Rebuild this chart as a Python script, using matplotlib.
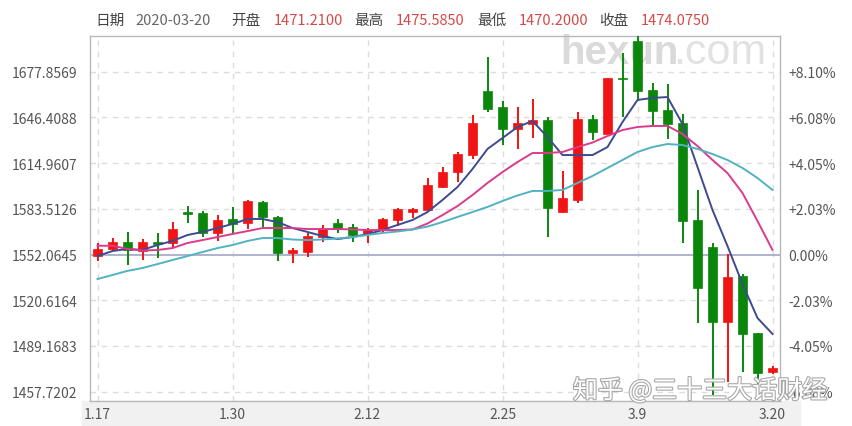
import numpy as np
import matplotlib
matplotlib.use("Agg")
import matplotlib.pyplot as plt
from matplotlib.patches import Rectangle
import matplotlib.patheffects as pe

plt.rcParams['font.family'] = ['Noto Sans CJK SC', 'DejaVu Sans']

# 交易日
dates = ["1.17", "1.20", "1.21", "1.22", "1.23", "1.24", "1.27", "1.28", "1.29", "1.30",
         "1.31", "2.3", "2.4", "2.5", "2.6", "2.7", "2.10", "2.11", "2.12", "2.13",
         "2.14", "2.17", "2.18", "2.19", "2.20", "2.21", "2.24", "2.25", "2.26", "2.27",
         "2.28", "3.2", "3.3", "3.4", "3.5", "3.6", "3.9", "3.10", "3.11", "3.12",
         "3.13", "3.16", "3.17", "3.18", "3.19", "3.20"]

# K线数据
opens = [1551.0, 1555.6, 1560.5, 1554.5, 1560.9, 1559.8, 1581.5, 1580.4, 1566.7, 1576.3,
         1574.0, 1588.4, 1578.1, 1552.9, 1554.0, 1564.3, 1574.0, 1571.2, 1566.2, 1568.9,
         1575.8, 1581.5, 1582.7, 1598.7, 1609.0, 1620.5, 1664.6, 1653.4, 1638.4, 1641.8,
         1644.6, 1581.5, 1589.6, 1645.1, 1635.0, 1673.5, 1699.2, 1665.2, 1651.5, 1642.3,
         1575.8, 1557.0, 1505.8, 1537.3, 1497.8, 1471.21]
highs = [1559.8, 1563.6, 1567.7, 1563.0, 1567.1, 1574.6, 1585.4, 1582.2, 1579.2, 1585.0,
         1589.6, 1588.9, 1578.5, 1556.3, 1566.9, 1572.4, 1576.3, 1573.1, 1570.1, 1577.0,
         1583.9, 1584.3, 1604.5, 1612.1, 1622.8, 1648.1, 1687.9, 1657.9, 1653.8, 1658.9,
         1646.9, 1609.7, 1650.3, 1648.1, 1673.5, 1690.9, 1708.0, 1669.9, 1669.4, 1648.8,
         1596.4, 1560.2, 1552.4, 1538.6, 1497.8, 1475.585]
lows = [1547.6, 1554.5, 1544.8, 1548.3, 1549.9, 1556.7, 1574.0, 1563.9, 1561.6, 1566.7,
        1569.4, 1570.1, 1547.6, 1546.0, 1550.3, 1560.9, 1566.7, 1560.9, 1560.2, 1567.7,
        1571.7, 1577.0, 1581.5, 1598.0, 1602.2, 1617.6, 1650.3, 1627.4, 1624.4, 1632.0,
        1564.1, 1580.8, 1587.7, 1630.8, 1635.0, 1646.5, 1657.9, 1640.5, 1631.3, 1559.8,
        1505.1, 1455.4, 1464.5, 1471.4, 1462.3, 1470.20]
closes = [1555.6, 1560.9, 1555.2, 1560.9, 1559.3, 1569.6, 1579.9, 1566.7, 1575.8, 1572.8,
          1588.9, 1577.7, 1553.3, 1555.2, 1564.8, 1569.4, 1570.5, 1565.5, 1568.9, 1576.3,
          1583.2, 1583.4, 1599.9, 1609.0, 1621.0, 1642.3, 1652.0, 1638.4, 1642.8, 1644.6,
          1583.9, 1590.7, 1645.1, 1636.6, 1673.3, 1672.8, 1664.8, 1651.0, 1641.8, 1575.1,
          1528.8, 1505.8, 1536.8, 1497.4, 1470.3, 1474.075]

# 均线（图上读出）
ma5 = [1551.0, 1554.5, 1555.9, 1555.2, 1558.6, 1561.4, 1565.5, 1567.6, 1570.3, 1573.1,
       1576.5, 1576.5, 1574.4, 1570.3, 1567.6, 1564.8, 1562.7, 1564.1, 1566.1, 1568.9,
       1572.4, 1575.8, 1581.3, 1589.6, 1598.5, 1610.9, 1624.7, 1632.2, 1639.8, 1643.9,
       1632.9, 1620.5, 1620.5, 1620.5, 1626.0, 1643.2, 1658.4, 1659.8, 1660.4, 1641.8,
       1612.3, 1582.7, 1557.9, 1531.8, 1508.4, 1497.4]
ma10 = [1558.1, 1558.1, 1555.9, 1554.8, 1555.2, 1556.5, 1560.0, 1562.0, 1564.1, 1566.2,
        1568.2, 1570.3, 1570.3, 1570.3, 1569.6, 1569.6, 1569.6, 1569.3, 1568.9, 1568.9,
        1568.9, 1569.3, 1573.4, 1579.2, 1585.4, 1593.0, 1601.3, 1608.8, 1615.7, 1621.9,
        1621.9, 1622.6, 1626.0, 1629.1, 1633.6, 1637.7, 1639.8, 1640.5, 1640.5, 1635.0,
        1626.7, 1617.1, 1608.1, 1594.4, 1575.1, 1555.2]
ma20 = [1535.2, 1538.0, 1540.8, 1542.8, 1545.5, 1548.3, 1551.0, 1553.8, 1556.5, 1558.6,
        1561.4, 1563.4, 1563.4, 1562.4, 1562.0, 1562.4, 1563.1, 1564.1, 1565.5, 1566.9,
        1567.9, 1569.3, 1571.3, 1574.4, 1577.9, 1581.3, 1584.8, 1588.9, 1592.7, 1595.8,
        1595.8, 1596.5, 1601.3, 1606.1, 1611.6, 1617.1, 1622.6, 1626.0, 1628.1, 1627.4,
        1624.7, 1621.2, 1617.1, 1611.6, 1604.7, 1596.5]

base = 1552.0645
yticks = [1457.7202, 1489.1683, 1520.6164, 1552.0645, 1583.5126, 1614.9607, 1646.4088, 1677.8569]
label_every = 9

UP = '#f01414'
DOWN = '#0a870a'

fig = plt.figure(figsize=(8.52, 4.27), dpi=100)
fig.patch.set_facecolor('white')

# x轴标签下面的灰色条
fig.patches.append(Rectangle((82 / 852, 0), (800 - 82) / 852, 25 / 427,
                             transform=fig.transFigure, color='#f1f1f1', zorder=-5))

ax = fig.add_axes([90 / 852, 25 / 427, 690 / 852, 365 / 427])
ax.set_zorder(2)
ax.patch.set_alpha(0)
x = np.arange(len(dates))

ax.set_xlim(-0.5, len(dates) - 0.5)
ax.set_ylim(1451.3, 1702.4)

# 网格
for t in yticks:
    if t != base:
        ax.axhline(t, color='#dcdcdc', lw=1, ls=(0, (4, 4)), zorder=1)
for i in range(0, len(dates), label_every):
    ax.axvline(i, color='#dcdcdc', lw=1, ls=(0, (4, 4)), zorder=1)
ax.axhline(base, color='#a8acca', lw=1.3, zorder=2)

# 蜡烛
o = np.array(opens); c = np.array(closes)
h = np.array(highs); l = np.array(lows)
cols = [UP if cc >= oo else DOWN for oo, cc in zip(o, c)]
ax.vlines(x, l, h, colors=cols, lw=1.4, zorder=3)
bottoms = np.minimum(o, c)
heights = np.maximum(np.abs(c - o), 0.8)
ax.bar(x, heights, bottom=bottoms, width=0.62, color=cols, edgecolor=cols, lw=0.5, zorder=4)

# 均线
ax.plot(x, ma5, color='#3d4a8e', lw=1.4, zorder=5)
ax.plot(x, ma10, color='#dc3a8c', lw=1.4, zorder=5)
ax.plot(x, ma20, color='#52b2c2', lw=1.4, zorder=5)

ax.set_yticks(yticks)
ax.set_yticklabels(['%.4f' % t for t in yticks])
ax.set_xticks(x[::label_every])
ax.set_xticklabels(dates[::label_every])
ax.tick_params(axis='both', length=0, labelsize=10, colors='#555555')
ax.tick_params(axis='y', pad=9)
ax.tick_params(axis='x', pad=4)

for s in ax.spines.values():
    s.set_color('#b8b8b8')
    s.set_linewidth(1)

ax2 = ax.twinx()
ax2.set_zorder(2)
ax2.patch.set_alpha(0)
ax2.set_ylim(ax.get_ylim())
ax2.set_yticks(yticks)
lbls = []
for t in yticks:
    p = (t - base) / base * 100
    lbls.append('0.00%' if abs(p) < 1e-6 else '%+.2f%%' % p)
ax2.set_yticklabels(lbls)
ax2.tick_params(axis='y', length=0, labelsize=10, colors='#555555', pad=6)
for s in ax2.spines.values():
    s.set_visible(False)

# 标题行
ty = 1 - 21 / 427
items = [(95, '日期', '#444444'), (135, '2020-03-20', '#666666'),
         (231, '开盘', '#444444'), (274, '1471.2100', '#d84848'),
         (354, '最高', '#444444'), (396, '1475.5850', '#d84848'),
         (477, '最低', '#444444'), (519, '1470.2000', '#d84848'),
         (599, '收盘', '#444444'), (641, '1474.0750', '#d84848')]
for px, txt, col in items:
    fig.text(px / 852, ty, txt, color=col, fontsize=10.5, va='center', ha='left')

# 水印
fig.text(560 / 852, 1 - 53 / 427, 'hexun', family=['Liberation Sans', 'DejaVu Sans'],
         fontweight='bold', fontsize=29, color='#dadada', va='center', ha='left', zorder=0)
fig.text(673 / 852, 1 - 53 / 427, '.com', family=['Liberation Sans', 'DejaVu Sans'],
         fontsize=31, color='#e2e2e2', va='center', ha='left', zorder=0)
fig.text(700 / 852, 1 - 392 / 427, '知乎 @三十三大话财经', fontsize=18, color='#ffffff',
         va='center', ha='center', zorder=10,
         path_effects=[pe.withStroke(linewidth=1.6, foreground='#a8a8a8')])

fig.savefig('out.png', dpi=100)
